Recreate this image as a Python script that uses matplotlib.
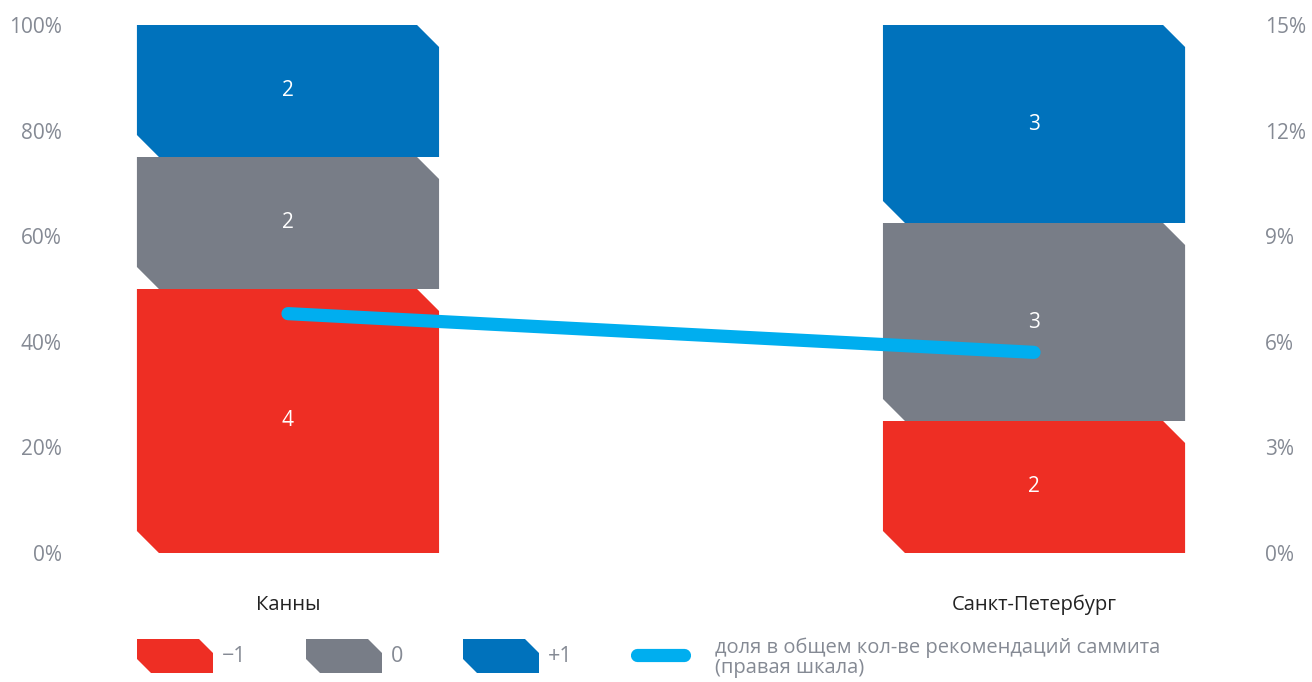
import matplotlib
matplotlib.use("Agg")
import matplotlib.pyplot as plt
from matplotlib.patches import Polygon
import numpy as np

plt.rcParams['font.family'] = ['Open Sans', 'DejaVu Sans']

categories = ["Канны", "Санкт-Петербург"]
series_names = ["−1", "0", "+1"]
counts_minus = [4, 2]
counts_zero = [2, 3]
counts_plus = [2, 3]
share_pct = [6.8, 5.7]
left_ticks = [0, 20, 40, 60, 80, 100]
right_ticks = [0, 3, 6, 9, 12, 15]
line_label = "доля в общем кол-ве рекомендаций саммита\n(правая шкала)"

colors = ["#EE2E24", "#787D87", "#0072BC"]
line_color = "#00AEEF"
tick_color = "#858A94"

W, H = 1312, 682
fig = plt.figure(figsize=(W / 100, H / 100), dpi=100)
ax_l, ax_r, ax_b, ax_t = 75, 1250, 553, 25
ax = fig.add_axes([ax_l / W, (H - ax_b) / H, (ax_r - ax_l) / W, (ax_b - ax_t) / H])
xlim = (-0.2855, 1.2895)
ax.set_xlim(*xlim)
ax.set_ylim(0, 100)
for s in ax.spines.values():
    s.set_visible(False)

# pixel -> data scale
px_x = (xlim[1] - xlim[0]) / (ax_r - ax_l)
px_y = 100.0 / (ax_b - ax_t)
cut = 22
bar_w = 0.405

series = [counts_minus, counts_zero, counts_plus]
totals = np.sum(series, axis=0)
x = np.arange(len(categories))
bottom = np.zeros(len(categories))
for si, vals in enumerate(series):
    pct = np.array(vals) / totals * 100
    for i in range(len(categories)):
        x0, x1 = x[i] - bar_w / 2, x[i] + bar_w / 2
        y0, y1 = bottom[i], bottom[i] + pct[i]
        cx, cy = cut * px_x, cut * px_y
        poly = Polygon([(x0 + cx, y0), (x1, y0), (x1, y1 - cy), (x1 - cx, y1),
                        (x0, y1), (x0, y0 + cy)], closed=True,
                       facecolor=colors[si], edgecolor='none')
        ax.add_patch(poly)
        ax.text(x[i], (y0 + y1) / 2, str(vals[i]), color='white', ha='center',
                va='center', fontsize=15)
    bottom += pct

ax.set_yticks(left_ticks)
ax.set_yticklabels([f"{t}%" for t in left_ticks])
ax.set_xticks(x)
ax.set_xticklabels(categories)
ax.tick_params(axis='y', length=0, pad=9.4, labelsize=15, labelcolor=tick_color)
ax.tick_params(axis='x', length=0, pad=30, labelsize=14.5, labelcolor='#222222')

ax2 = ax.twinx()
ax2.set_ylim(0, 15)
for s in ax2.spines.values():
    s.set_visible(False)
ax2.plot(x, share_pct, color=line_color, lw=9.5, solid_capstyle='round')
ax2.set_yticks(right_ticks)
ax2.set_yticklabels([f"{t}%" for t in right_ticks])
ax2.tick_params(axis='y', length=0, pad=10.8, labelsize=15, labelcolor=tick_color)

# legend in pixel coordinates
lg = fig.add_axes([0, 0, 1, 1], zorder=-1)
lg.set_xlim(0, W)
lg.set_ylim(H, 0)
lg.axis('off')
lcut = 14
for si, (lx, name) in enumerate(zip([137, 306, 463], series_names)):
    x0, x1, y0, y1 = lx, lx + 76, 673, 639
    lg.add_patch(Polygon([(x0 + lcut, y0), (x1, y0), (x1, y1 + lcut), (x1 - lcut, y1),
                          (x0, y1), (x0, y0 - lcut)], closed=True,
                         facecolor=colors[si], edgecolor='none'))
    lg.text(x1 + 9, 657, name, color=tick_color, fontsize=15.5, va='center', ha='left')
lg.plot([637, 684], [655, 655], color=line_color, lw=9.5, solid_capstyle='round')
lg.text(715, 658, line_label, color=tick_color, fontsize=14.5, va='center', ha='left',
        linespacing=1.0)

fig.savefig("out.png", dpi=100)
